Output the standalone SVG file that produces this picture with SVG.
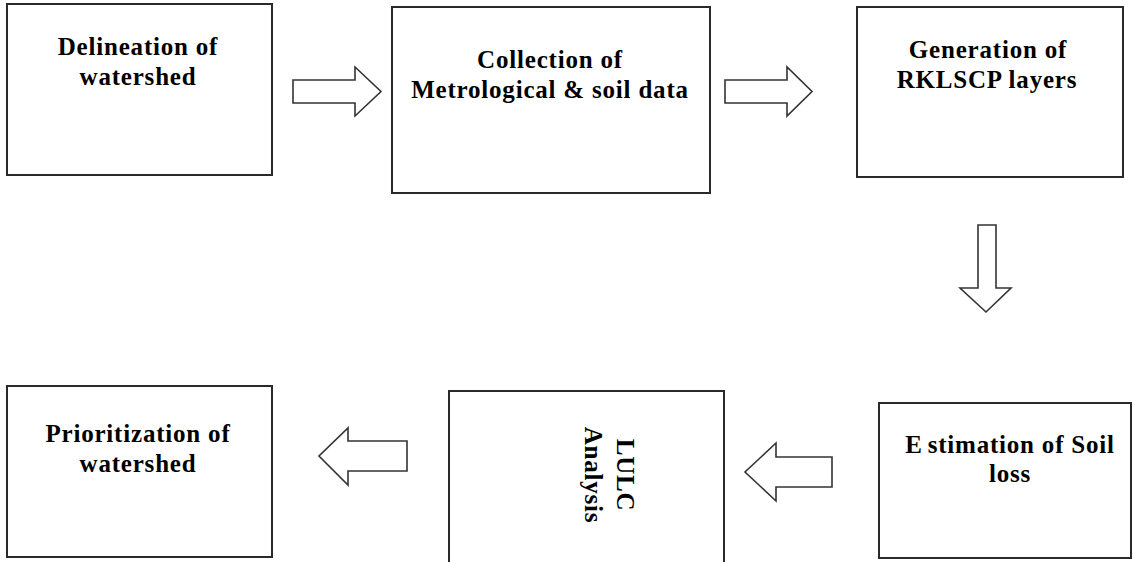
<svg xmlns="http://www.w3.org/2000/svg" width="1134" height="562" viewBox="0 0 1134 562">
<style>
.box{fill:#fff;stroke:#2a2a2a;stroke-width:2}
.arr{fill:#fff;stroke:#333;stroke-width:1.6;stroke-linejoin:miter}
.t{font-family:"Liberation Serif","Times New Roman",serif;font-weight:bold;font-size:25px;letter-spacing:0.8px;fill:#000;text-anchor:middle}
</style>
<rect width="1134" height="562" fill="#fff"/>
<g id="connectors">
<path class="arr" d="M293,80 H355 V67 L381,91.5 L355,116 V103 H293 Z"/>
<path class="arr" d="M725,80 H787 V67 L812,91.5 L787,116 V103 H725 Z"/>
<path class="arr" d="M978,225 H996 V288 H1011 L986,312 L960,288 H978 Z"/>
<path class="arr" d="M832,457 V487 H776 V501 L745,472 L776,443 V457 Z"/>
<path class="arr" d="M407,441 V471 H348 V485 L319,456 L348,428 V441 Z"/>
</g>
<g id="node-delineation">
<rect class="box" x="7" y="4" width="265" height="171"/>
<text class="t" x="138" y="55">Delineation of</text>
<text class="t" x="138" y="85">watershed</text>
</g>
<g id="node-collection">
<rect class="box" x="392" y="7" width="318" height="186"/>
<text class="t" x="550" y="68">Collection of</text>
<text class="t" x="550" y="98">Metrological &amp; soil data</text>
</g>
<g id="node-generation">
<rect class="box" x="857" y="7" width="266" height="170"/>
<text class="t" x="988" y="58">Generation of</text>
<text class="t" x="987" y="88">RKLSCP layers</text>
</g>
<g id="node-estimation">
<rect class="box" x="879" y="403" width="252" height="155"/>
<text class="t" x="1010" y="453"><tspan>E</tspan><tspan dx="5">stimation of Soil</tspan></text>
<text class="t" x="1010" y="482">loss</text>
</g>
<g id="node-lulc">
<rect class="box" x="449" y="391" width="275" height="180"/>
<text class="t" transform="translate(617,475) rotate(90)" x="0" y="0">LULC</text>
<text class="t" transform="translate(585,475) rotate(90)" x="0" y="0">Analysis</text>
</g>
<g id="node-prioritization">
<rect class="box" x="7" y="386" width="265" height="171"/>
<text class="t" x="138" y="442">Prioritization of</text>
<text class="t" x="138" y="472">watershed</text>
</g>
</svg>
